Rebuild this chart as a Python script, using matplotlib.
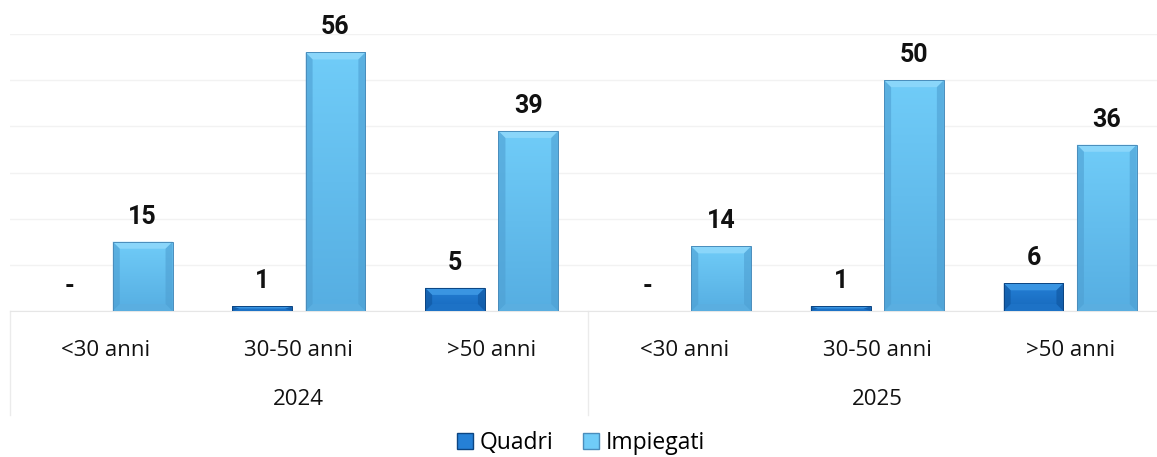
import numpy as np
import matplotlib.pyplot as plt
from matplotlib.patches import Polygon, Patch
from matplotlib.colors import LinearSegmentedColormap

# dati
anni = ["2024", "2025"]
fasce = ["<30 anni", "30-50 anni", ">50 anni"]
quadri = [0, 1, 5, 0, 1, 6]
impiegati = [15, 56, 39, 14, 50, 36]

# colori: faccia alta, faccia bassa, bisello alto, lati, bisello basso, bordo
col_quadri = ["#2580D6", "#1668BC", "#3A95E2", "#0F559E", "#1D72C6", "#0C4582"]
col_impiegati = ["#70CCF8", "#56AEE2", "#8AD6FA", "#4E9FD2", "#5AAEE0", "#4A8DBC"]

fig = plt.figure(figsize=(11.57, 4.57), dpi=100)
ax = fig.add_axes([9.6 / 1157, 146 / 457, 1.0, 277 / 457])

x = np.arange(len(quadri))
largh = 0.31
off = 0.19


def bisello(bars, col):
    # faccia sfumata + bisello per dare il rilievo come in Excel
    cmap = LinearSegmentedColormap.from_list("f", [col[1], col[0]])
    for b in bars:
        x0, y0 = b.get_x(), b.get_y()
        w, h = b.get_width(), b.get_height()
        if h <= 0:
            continue
        im = ax.imshow(np.linspace(0, 1, 50).reshape(-1, 1), cmap=cmap,
                       extent=(x0, x0 + w, y0, y0 + h), origin="lower",
                       aspect="auto", interpolation="bilinear", zorder=2)
        im.set_clip_path(b)
        dx = min(7 / 192.8, w / 2)
        dy = min(7 / 4.617, h / 2)
        top = [(x0, y0 + h), (x0 + w, y0 + h), (x0 + w - dx, y0 + h - dy), (x0 + dx, y0 + h - dy)]
        bot = [(x0, y0), (x0 + w, y0), (x0 + w - dx, y0 + dy), (x0 + dx, y0 + dy)]
        sx = [(x0, y0), (x0 + dx, y0 + dy), (x0 + dx, y0 + h - dy), (x0, y0 + h)]
        dx_ = [(x0 + w, y0), (x0 + w - dx, y0 + dy), (x0 + w - dx, y0 + h - dy), (x0 + w, y0 + h)]
        ax.add_patch(Polygon(top, closed=True, fc=col[2], ec="none", zorder=3))
        ax.add_patch(Polygon(bot, closed=True, fc=col[4], ec="none", zorder=3))
        ax.add_patch(Polygon(sx, closed=True, fc=col[3], ec="none", alpha=0.6, zorder=3))
        ax.add_patch(Polygon(dx_, closed=True, fc=col[3], ec="none", alpha=0.6, zorder=3))
        ax.add_patch(Polygon([(x0, y0), (x0 + w, y0), (x0 + w, y0 + h), (x0, y0 + h)],
                             closed=True, fc="none", ec=col[5], lw=0.7, zorder=4))


b1 = ax.bar(x - off, quadri, largh, color=col_quadri[0], zorder=1)
b2 = ax.bar(x + off, impiegati, largh, color=col_impiegati[0], zorder=1)
bisello(b1, col_quadri)
bisello(b2, col_impiegati)

# etichette dei valori
for serie, pos in ((quadri, x - off), (impiegati, x + off)):
    for xi, v in zip(pos, serie):
        ax.annotate("-" if v == 0 else str(v), (xi, v), xytext=(0, 13),
                    textcoords="offset points", ha="center", va="baseline",
                    fontsize=18, fontweight="bold", family="Roboto",
                    color="#111111", clip_on=False)

ax.set_xlim(-0.5, 5.5)
ax.set_ylim(0, 60)
ax.set_yticks(np.arange(0, 61, 10))
ax.yaxis.grid(True, color="#F2F2F2", lw=1)
ax.set_axisbelow(True)
ax.tick_params(axis="y", left=False, labelleft=False)
for s in ["top", "right", "left"]:
    ax.spines[s].set_visible(False)
ax.spines["bottom"].set_color("#E6E6E6")

ax.set_xticks(x, fasce * 2)
ax.tick_params(axis="x", length=0, pad=21, labelsize=16, labelcolor="#111111")
for t in ax.get_xticklabels():
    t.set_family("Open Sans")

trans = ax.get_xaxis_transform()
for i, anno in enumerate(anni):
    ax.text(i * 3 + 1, -0.32, anno, transform=trans, ha="center", va="center",
            fontsize=16, family="Open Sans", color="#111111")
for xs in (-0.5, 2.5, 5.5):
    ax.plot([xs, xs], [0, -0.375], transform=trans, color="#EBEBEB", lw=1, clip_on=False)

maniglie = [Patch(facecolor=col_quadri[0], edgecolor=col_quadri[5], label="Quadri"),
            Patch(facecolor=col_impiegati[0], edgecolor=col_impiegati[5], label="Impiegati")]
fig.legend(handles=maniglie, loc="center", bbox_to_anchor=(0.502, 0.03), ncol=2,
           frameon=False, handlelength=0.7, handleheight=0.7, handletextpad=0.3,
           columnspacing=1.3, prop={"family": "Open Sans", "size": 16.5})

fig.savefig("out.png", dpi=100)
